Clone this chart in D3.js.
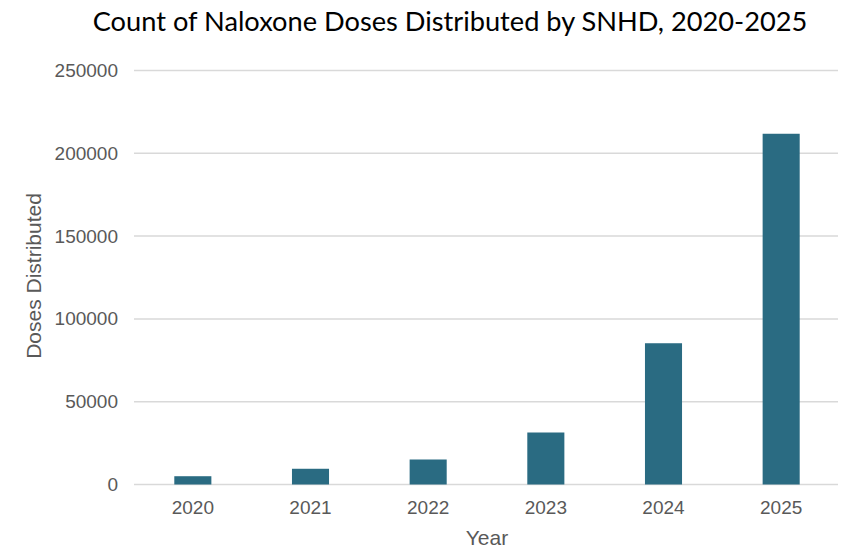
<!DOCTYPE html>
<html><head><meta charset="utf-8">
<script src="https://cdn.jsdelivr.net/npm/d3@7"></script>
<style>body{margin:0;background:#fff}</style>
</head><body>
<svg id="c" width="848" height="550"></svg>
<script>
const years = ["2020","2021","2022","2023","2024","2025"];
const doses = [5000, 9500, 15100, 31400, 85300, 211800];
const yTicks = [0, 50000, 100000, 150000, 200000, 250000];
const titleText = "Count of Naloxone Doses Distributed by SNHD, 2020-2025";
const xTitle = "Year";
const yTitle = "Doses Distributed";

const svg = d3.select("#c");
const mLeft = 134, mRight = 840, mTop = 70.5, mBottom = 484.5;
const x = d3.scaleBand().domain(years).range([mLeft, mRight]).paddingInner(0.685).paddingOuter(0.3425);
const y = d3.scaleLinear().domain([0, 250000]).range([mBottom, mTop]);

// gridlines
svg.append("g").selectAll("line").data(yTicks).join("line")
  .attr("x1", mLeft).attr("x2", 838)
  .attr("y1", d => y(d)).attr("y2", d => y(d))
  .attr("stroke", "#d9d9d9").attr("stroke-width", 1.5);

// y axis labels
const yAxis = svg.append("g").attr("transform", `translate(${mLeft},0)`)
  .call(d3.axisLeft(y).tickValues(yTicks).tickFormat(d3.format("d")).tickSize(0).tickPadding(16));
yAxis.select(".domain").remove();
yAxis.selectAll("text").attr("font-family", "Liberation Sans, Arial, sans-serif")
  .attr("font-size", 19).attr("fill", "#595959");

// bars
svg.append("g").selectAll("rect").data(years).join("rect")
  .attr("x", d => x(d)).attr("width", x.bandwidth())
  .attr("y", (d,i) => y(doses[i])).attr("height", (d,i) => mBottom - y(doses[i]))
  .attr("fill", "#2a6b82");

// x axis labels
const xAxis = svg.append("g").attr("transform", `translate(0,${mBottom})`)
  .call(d3.axisBottom(x).tickSize(0).tickPadding(16));
xAxis.select(".domain").remove();
xAxis.selectAll("text").attr("font-family", "Liberation Sans, Arial, sans-serif")
  .attr("font-size", 19).attr("fill", "#595959");

// axis titles
svg.append("text").attr("x", 487).attr("y", 545).attr("text-anchor", "middle")
  .attr("font-family", "Liberation Sans, Arial, sans-serif").attr("font-size", 21)
  .attr("fill", "#595959").text(xTitle);
svg.append("text").attr("transform", "translate(41,276) rotate(-90)").attr("text-anchor", "middle")
  .attr("font-family", "Liberation Sans, Arial, sans-serif").attr("font-size", 21)
  .attr("fill", "#595959").text(yTitle);

// title
const t = svg.append("text").attr("x", 450).attr("y", 31).attr("text-anchor", "middle")
  .attr("font-family", "Lato, sans-serif").attr("font-size", 26).attr("fill", "#000").text(titleText);
const w = t.node().getComputedTextLength();
t.attr("font-size", 26 * 715 / w);
</script>
</body></html>
